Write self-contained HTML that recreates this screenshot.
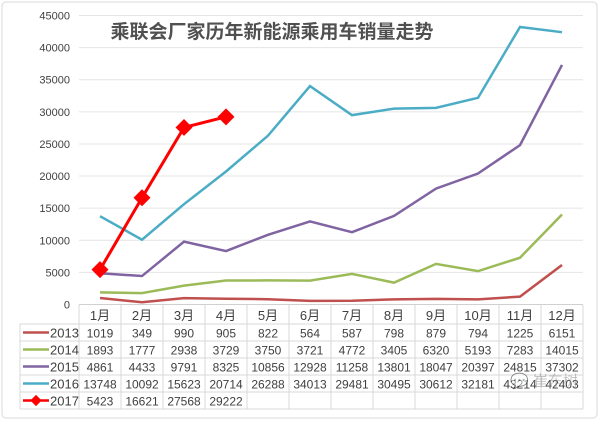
<!DOCTYPE html>
<html><head><meta charset="utf-8"><style>
body{margin:0;background:#fff;}
svg text{font-family:"Liberation Sans","Noto Sans CJK SC",sans-serif;}
</style></head><body>
<svg width="600" height="422" viewBox="0 0 600 422" xmlns="http://www.w3.org/2000/svg" id="chart">
<rect x="2" y="2" width="595" height="416" rx="4" fill="#fff" stroke="#d8d8d8"/>
<text x="272" y="38" text-anchor="middle" font-size="19" font-weight="bold" fill="#505050">乘联会厂家历年新能源乘用车销量走势</text>
<g id="grid"></g><g id="series"></g><g id="table"></g>
<g opacity="0.5">
<text x="510" y="386" font-size="15" fill="#888">💬 崔东树</text>
</g>
</svg>
<script>
const months=["1月","2月","3月","4月","5月","6月","7月","8月","9月","10月","11月","12月"];
const yTicks=[0,5000,10000,15000,20000,25000,30000,35000,40000,45000];
const years=["2013","2014","2015","2016","2017"];
const s2013=[1019,349,990,905,822,564,587,798,879,794,1225,6151];
const s2014=[1893,1777,2938,3729,3750,3721,4772,3405,6320,5193,7283,14015];
const s2015=[4861,4433,9791,8325,10856,12928,11258,13801,18047,20397,24815,37302];
const s2016=[13748,10092,15623,20714,26288,34013,29481,30495,30612,32181,43214,42403];
const s2017=[5423,16621,27568,29222];
const colors=["#c0504d","#9bbb59","#8064a2","#4bacc6","#ff0000"];
const NS="http://www.w3.org/2000/svg";
const x0=79,cw=42,y0=304.5,yTop=15.5,yMax=45000;
const X=i=>x0+cw*i+cw/2;
const Y=v=>y0-(v/yMax)*(y0-yTop);
function mk(t,a,p){const e=document.createElementNS(NS,t);for(const k in a)e.setAttribute(k,a[k]);p.appendChild(e);return e;}
const grid=document.getElementById('grid');
yTicks.forEach(v=>{
 const l=mk('line',{x1:x0,x2:583,y1:Y(v),y2:Y(v),stroke:v?'#e4e4e4':'#d0d0d0'},grid);
 
 
 const t=mk('text',{x:70,y:Y(v)+4,'text-anchor':'end','font-size':11,fill:'#404040'},grid);
 
 
 t.textContent=v;
});
const ser=document.getElementById('series');
const all=[s2013,s2014,s2015,s2016,s2017];
all.forEach((d,k)=>{
 const p=mk('polyline',{points:d.map((v,i)=>X(i)+','+Y(v)).join(' '),fill:'none',stroke:colors[k],'stroke-width':k==4?3:2.5},ser);
 
 
 if(k==4)d.forEach((v,i)=>{
  const m=mk('rect',{x:X(i)-6,y:Y(v)-6,width:12,height:12,fill:'#ff0000',transform:`rotate(45 ${X(i)} ${Y(v)})`},ser);
  
  
 });
});
const tb=document.getElementById('table');
const rowY=[305,324,341,358,375,392,409];
for(let i=0;i<=12;i++){const l=mk('line',{x1:x0+cw*i,x2:x0+cw*i,y1:305,y2:409,stroke:'#d8d8d8'},tb);}
for(let r=1;r<rowY.length;r++){const l=mk('line',{x1:20,x2:583,y1:rowY[r],y2:rowY[r],stroke:'#d8d8d8'},tb);}
mk('line',{x1:20,x2:20,y1:324,y2:409,stroke:'#d8d8d8'},tb);
months.forEach((m,i)=>{const t=mk('text',{x:X(i),y:320,'text-anchor':'middle','font-size':13,fill:'#404040'},tb);t.textContent=m;});
all.forEach((d,k)=>{
 const cy=(rowY[k+1]+rowY[k+2])/2;
 const l=mk('line',{x1:23,x2:49,y1:cy,y2:cy,stroke:colors[k],'stroke-width':2.5},tb);
 
 
 if(k==4){const m=mk('rect',{x:32,y:cy-4,width:8,height:8,fill:'#ff0000',transform:`rotate(45 36 ${cy})`},tb);}
 const t=mk('text',{x:50,y:cy+5,'font-size':13,fill:'#404040'},tb);
 
 
 t.textContent=years[k];
 d.forEach((v,i)=>{const c=mk('text',{x:X(i),y:cy+5,'text-anchor':'middle','font-size':12,fill:'#404040'},tb);c.textContent=v;});
});
</script>
</body></html>
